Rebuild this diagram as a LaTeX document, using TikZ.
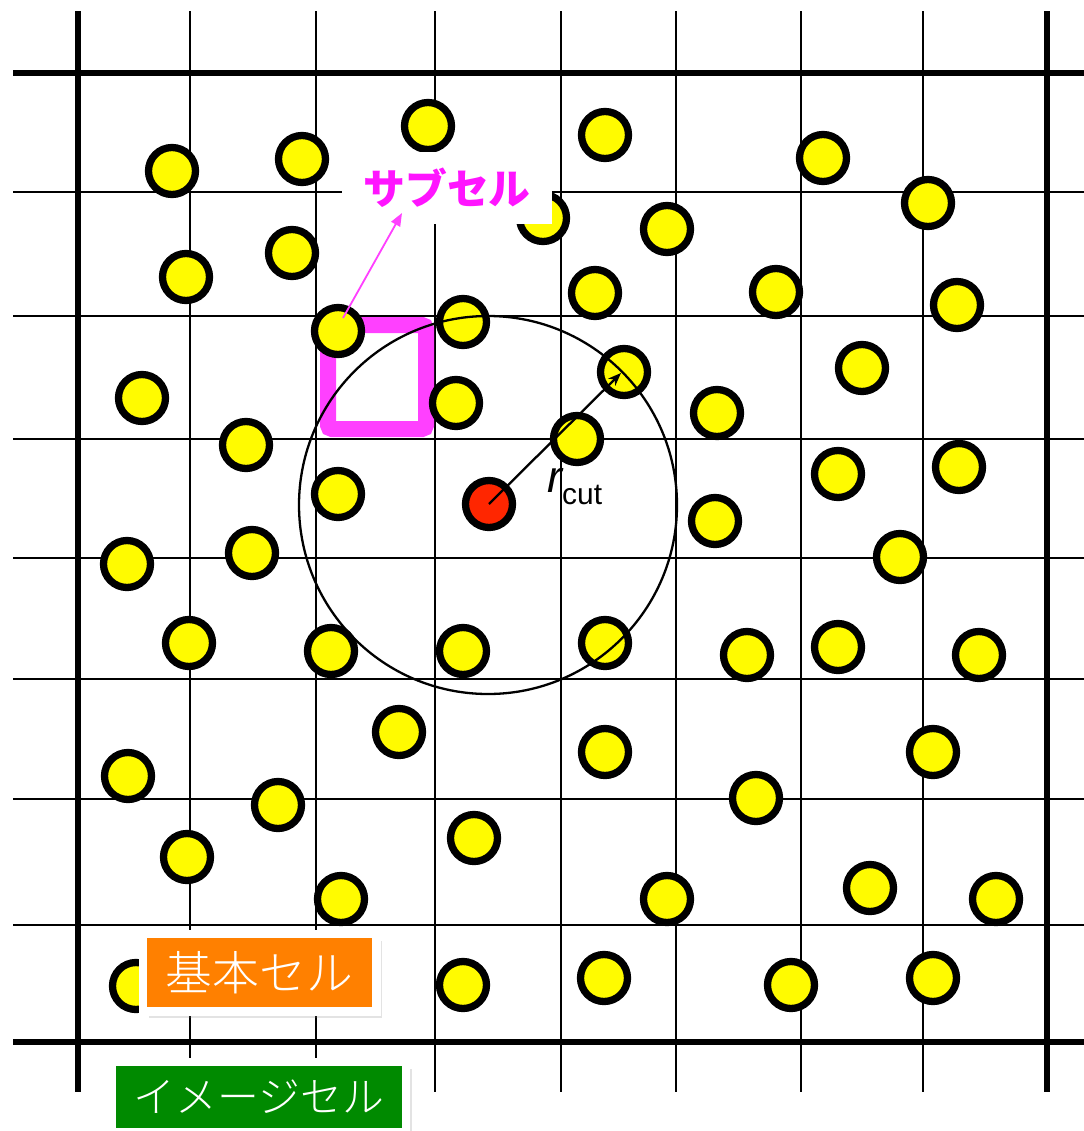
\documentclass[tikz,border=0pt]{standalone}
\usepackage{fontspec}
\newfontfamily\jpfont{Noto Sans CJK JP}
\newfontfamily\jplight{Noto Sans CJK JP}[UprightFont=* Light]
\newfontfamily\arialfont{Liberation Sans}
\usetikzlibrary{arrows.meta,shadows}
\definecolor{ptyellow}{RGB}{255,251,0}
\definecolor{ptred}{RGB}{255,38,0}
\definecolor{submag}{RGB}{255,64,255}
\definecolor{subtext}{RGB}{255,20,255}
\definecolor{boxorange}{RGB}{255,128,0}
\definecolor{boxgreen}{RGB}{0,138,0}
\begin{document}
\begin{tikzpicture}[x=1bp,y=-1bp,
  gridthick/.style={line width=6.5bp},
  gridthin/.style={line width=2.5bp},
  particle/.style={circle,draw=black,line width=7.3bp,fill=ptyellow,minimum size=47bp,inner sep=0pt},
  labelbox/.style={draw=white,line width=8.5bp,text=white,inner sep=0pt,
    drop shadow={shadow xshift=6bp,shadow yshift=-7bp,opacity=0.22}},
  magarrow/.style={draw=submag,line width=1.8bp,-{Triangle[length=13bp,width=10bp]}},
]
\useasboundingbox (0,0) rectangle (1084,1131);
\clip (0,0) rectangle (1084,1131);
\fill[white] (0,0) rectangle (1084,1131);
% grid
\foreach \gx in {78,1047} \draw[gridthick] (\gx,11) -- (\gx,1092);
\foreach \gx in {190,316,435,561,676,801,923} \draw[gridthin] (\gx,11) -- (\gx,1092);
\foreach \gy in {73,1042} \draw[gridthick] (13,\gy) -- (1084,\gy);
\foreach \gy in {192,316,439,558,679,799,925} \draw[gridthin] (13,\gy) -- (1084,\gy);
% sub cell
\node[draw=submag,line width=16bp,fill=white,rounded corners=4bp,minimum width=98bp,minimum height=104bp,inner sep=0pt] (subcell) at (377,377) {};
% particles
\foreach \px/\py [count=\i] in {172/171,302/159,428/126,605/135,823/158,928/203,543/218,667/229,
  186/277,292/253,595/293,776/292,957/305,
  338/331,463/322,624/372,862/368,
  142/398,456/403,717/413,
  246/445,577/439,838/474,959/467,
  338/494,715/521,
  127/564,252/553,900/557,
  189/643,331/651,463/651,605/643,747/655,838/647,979/655,
  399/732,605/752,933/752,
  128/776,278/805,756/798,
  474/838,187/857,
  341/899,667/899,870/888,996/899,
  136/986,463/985,604/978,791/985,933/978}
  \node[particle] (p\i) at (\px,\py) {};
\node[particle,fill=ptred] (center) at (489,504) {};
% sub cell label
\node[fill=white,minimum width=210bp,minimum height=72bp,inner sep=0pt,text=subtext,
  font=\jpfont\bfseries\fontsize{42}{42}\selectfont] (sublabel) at (447,188) {サブセル};
\coordinate (subtail) at (343,318);
\coordinate (subtip) at (402,213);
\draw[magarrow] (subtail) -- (subtip);
% cutoff circle
\node[circle,draw=black,line width=2.3bp,minimum size=378bp,inner sep=0pt] (cutoff) at (488,505) {};
\coordinate (rtip) at (621,373);
\draw[line width=2.3bp,-{Stealth[length=13bp,width=10bp,inset=4bp]}] (center.center) -- (rtip);
\node[anchor=base west,inner sep=0pt,font=\arialfont\itshape\fontsize{45}{45}\selectfont] (rlabel) at (547,492) {r};
\node[anchor=base west,inner sep=0pt,font=\arialfont\fontsize{30}{30}\selectfont] (cutlabel) at (562,504) {cut};
% labels
\node[labelbox,fill=boxorange,minimum width=233.5bp,minimum height=77.5bp,
  font=\jplight\fontsize{47}{47}\selectfont] (basecell) at (259.5,972.5) {基本セル};
\node[labelbox,fill=boxgreen,minimum width=294bp,minimum height=70bp,
  font=\jplight\fontsize{42}{42}\selectfont] (imagecell) at (259,1097) {イメージセル};
\end{tikzpicture}
\end{document}
